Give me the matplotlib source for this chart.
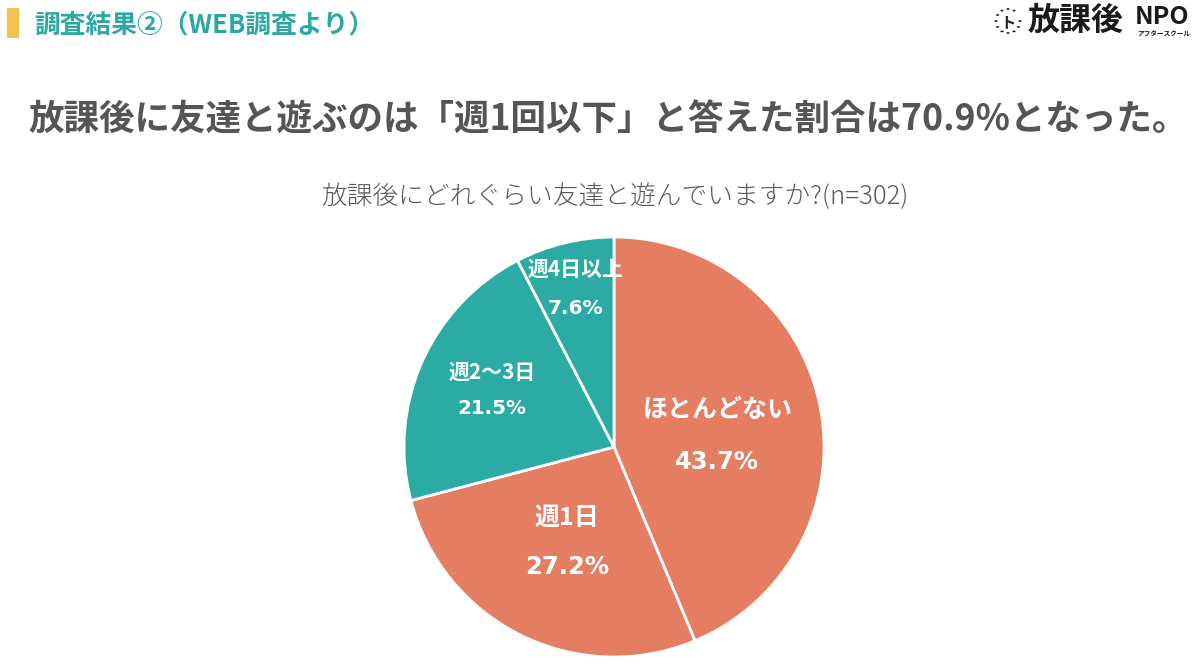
import matplotlib
matplotlib.use("Agg")
import matplotlib.pyplot as plt
import numpy as np
from matplotlib.patches import Rectangle, Circle

plt.rcParams['font.family'] = ['Noto Sans CJK JP', 'DejaVu Sans']

# ---- data ----
categories = ['ほとんどない', '週1日', '週2〜3日', '週4日以上']
values = [43.7, 27.2, 21.5, 7.6]
pct_labels = ['43.7%', '27.2%', '21.5%', '7.6%']
colors = ['#E47D61', '#E47D61', '#2BABA3', '#2BABA3']

header = '調査結果②（WEB調査より）'
headline = '放課後に友達と遊ぶのは「週1回以下」と答えた割合は70.9%となった。'
subtitle = '放課後にどれぐらい友達と遊んでいますか?(n=302)'

W, H = 1200, 669
fig = plt.figure(figsize=(W / 100, H / 100), dpi=100)
fig.patch.set_facecolor('white')

def fx(px):
    return px / W

def fy(py):
    return 1 - py / H

# header bar + header text
fig.patches.append(Rectangle((fx(7), fy(38)), fx(12), 30 / H, transform=fig.transFigure,
                             facecolor='#F2C14E', edgecolor='none'))
fig.text(fx(34), fy(25), header, fontsize=18.5, fontweight='bold', color='#2BA8A2',
         ha='left', va='center')

# logo
cx, cy, cr = 1008, 21, 12
for a in np.linspace(0, 2 * np.pi, 12, endpoint=False):
    if 0.2 < a < 1.0:
        continue
    fig.patches.append(Circle((fx(cx + cr * np.cos(a)), fy(cy - cr * np.sin(a))), 1.6 / W,
                              transform=fig.transFigure, facecolor='#222222', edgecolor='none'))
fig.text(fx(1008), fy(22), 'ト', fontsize=11, fontweight='bold', color='#222222',
         ha='center', va='center')
fig.text(fx(1028), fy(21), '放課後', fontsize=23, fontweight='bold', color='#1a1a1a',
         ha='left', va='center')
fig.text(fx(1135), fy(17), 'NPO', fontsize=18, fontweight='bold', color='#1a1a1a',
         ha='left', va='center')
fig.text(fx(1137), fy(34), 'アフタースクール', fontsize=4.8, fontweight='bold', color='#1a1a1a',
         ha='left', va='center')

# headline & subtitle
fig.text(fx(608), fy(120), headline, fontsize=25.6, fontweight='bold', color='#555555',
         ha='center', va='center')
fig.text(fx(615), fy(197), subtitle, fontsize=18.5, fontweight=300, color='#595959',
         ha='center', va='center')

# pie
pcx, pcy, pr = 614, 447, 210
ax = fig.add_axes([fx(pcx - pr), 1 - (pcy + pr) / H, 2 * pr / W, 2 * pr / H])
wedges, _ = ax.pie(values, colors=colors, startangle=90, counterclock=False, radius=1,
                   wedgeprops=dict(edgecolor='white', linewidth=2))
ax.set_xlim(-1, 1)
ax.set_ylim(-1, 1)
ax.set_aspect('equal')
ax.axis('off')

label_r = [0.495, 0.505, 0.64, 0.775]
angle_adj = [-5.5, 0, -1.0, 0]
sizes = [18, 18, 15, 15]
pct_sizes = [17.5, 17.5, 14.3, 14.5]
gaps = [0.124, 0.117, 0.088, 0.095]
for w, cat, pct, r, da, fs, pfs, g in zip(wedges, categories, pct_labels, label_r, angle_adj,
                                          sizes, pct_sizes, gaps):
    mid = np.deg2rad((w.theta1 + w.theta2) / 2 + da)
    x, y = r * np.cos(mid), r * np.sin(mid)
    ax.text(x, y + g, cat, ha='center', va='center', fontsize=fs, fontweight='bold', color='white')
    ax.text(x, y - g, pct, ha='center', va='center', fontsize=pfs, fontweight='bold', color='white',
            family=['DejaVu Sans'])

fig.savefig('out.png', dpi=100, facecolor='white')
